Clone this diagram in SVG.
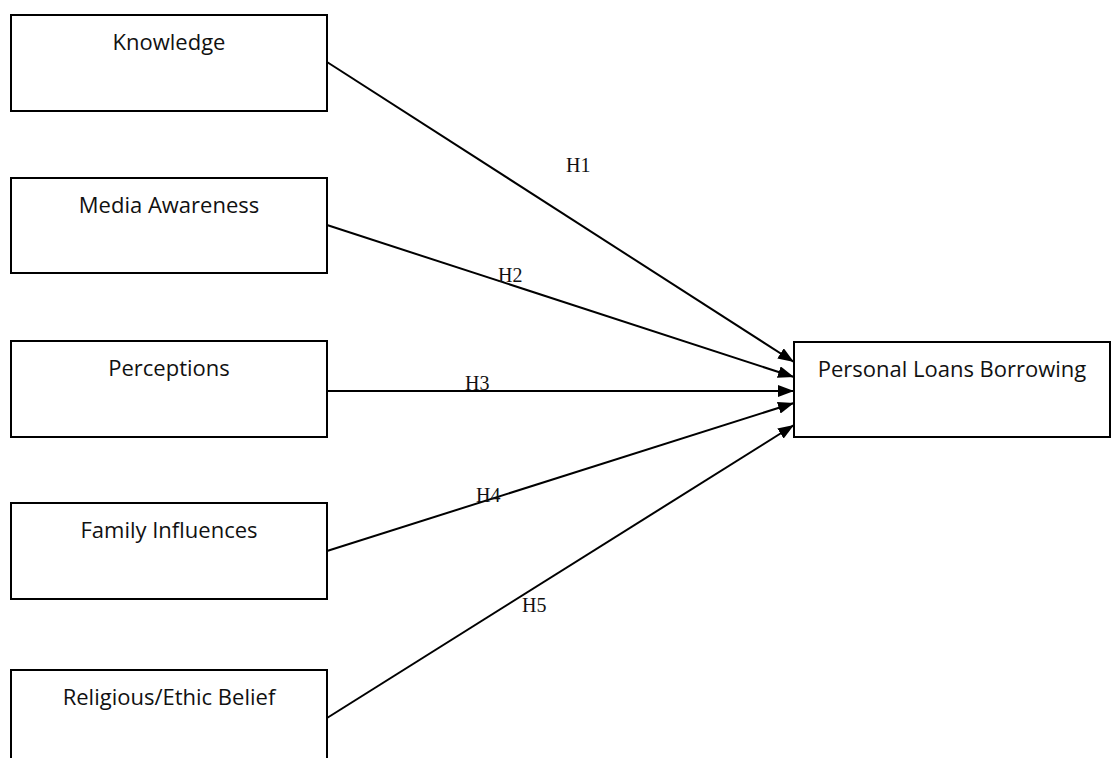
<svg xmlns="http://www.w3.org/2000/svg" width="1115" height="758" viewBox="0 0 1115 758">
<defs>
<style>
.box{fill:#fff;stroke:#000;stroke-width:2}
.lbl{font-family:"Open Sans","Liberation Sans",sans-serif;font-size:22px;fill:#111;text-anchor:middle}
.h{font-family:"Liberation Serif","Times New Roman",serif;font-size:20px;fill:#111}
.edge{stroke:#000;stroke-width:2;fill:none;marker-end:url(#arrow)}
</style>
<marker id="arrow" viewBox="0 0 16 12" refX="16" refY="6" markerWidth="16" markerHeight="12" markerUnits="userSpaceOnUse" orient="auto">
<path d="M0,0 L16,6 L0,12 z" fill="#000"/>
</marker>
</defs>
<rect width="1115" height="758" fill="#fff"/>
<g id="connectors">
<line class="edge" x1="327" y1="62" x2="794" y2="362"/>
<line class="edge" x1="327" y1="225" x2="794" y2="377"/>
<line class="edge" x1="327" y1="391" x2="794" y2="391"/>
<line class="edge" x1="327" y1="551" x2="794" y2="403"/>
<line class="edge" x1="327" y1="718" x2="794" y2="425"/>
<text class="h" x="566" y="172">H1</text>
<text class="h" x="498" y="282">H2</text>
<text class="h" x="465" y="390">H3</text>
<text class="h" x="476" y="502">H4</text>
<text class="h" x="522" y="612">H5</text>
</g>
<g id="knowledge">
<rect class="box" x="11" y="15" width="316" height="96"/>
<text class="lbl" x="169" y="50">Knowledge</text>
</g>
<g id="media">
<rect class="box" x="11" y="178" width="316" height="95"/>
<text class="lbl" x="169" y="213">Media Awareness</text>
</g>
<g id="perceptions">
<rect class="box" x="11" y="341" width="316" height="96"/>
<text class="lbl" x="169" y="376">Perceptions</text>
</g>
<g id="family">
<rect class="box" x="11" y="503" width="316" height="96"/>
<text class="lbl" x="169" y="538">Family Influences</text>
</g>
<g id="religious">
<rect class="box" x="11" y="670" width="316" height="96"/>
<text class="lbl" x="169" y="705">Religious/Ethic Belief</text>
</g>
<g id="personal">
<rect class="box" x="794" y="342" width="316" height="95"/>
<text class="lbl" x="952" y="377">Personal Loans Borrowing</text>
</g>
</svg>
